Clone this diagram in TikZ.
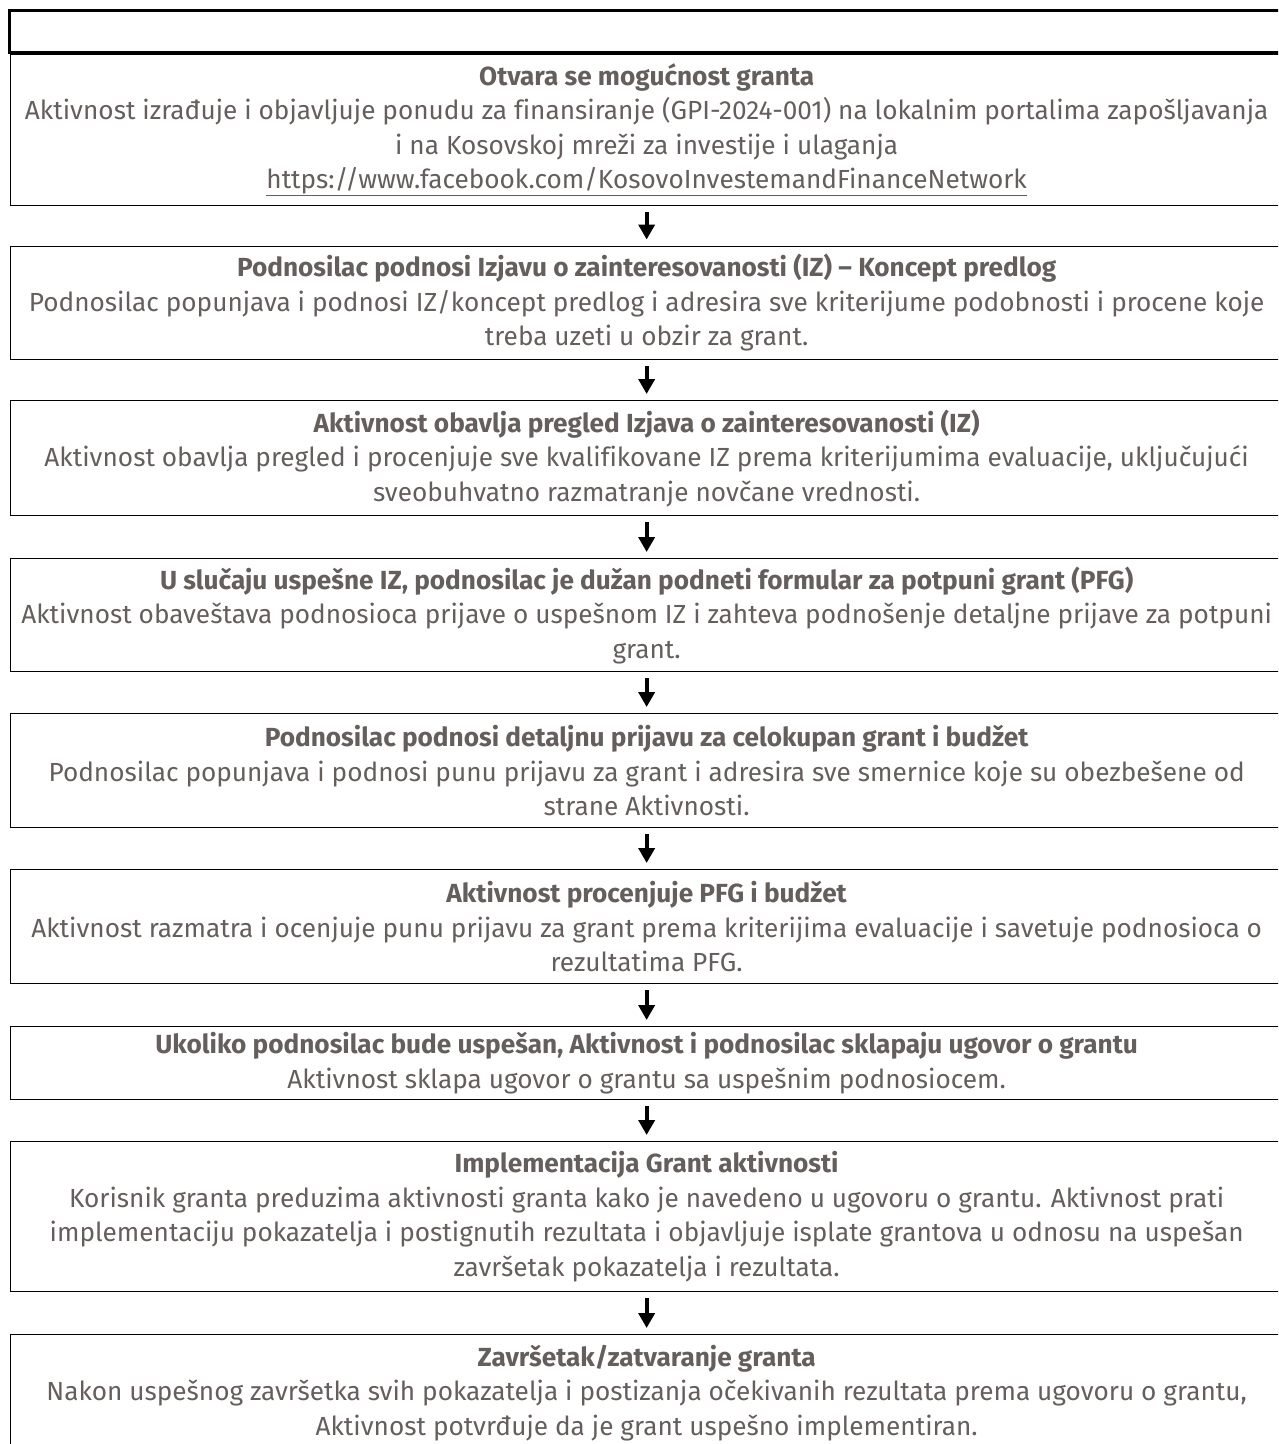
\documentclass[tikz,border=0pt]{standalone}
\usepackage{fontspec}
\setmainfont[Ligatures=NoCommon]{Fira Sans}
\usetikzlibrary{arrows.meta}
\definecolor{txtgrey}{RGB}{100,94,92}
\tikzset{
  stepbox/.style={draw=black, line width=1.3pt, minimum width=1272pt, inner sep=0pt,
    align=center, text=txtgrey, font=\fontsize{26.2}{34.5}\selectfont, anchor=north west},
  topbox/.style={draw=black, line width=2.6pt, minimum width=1276pt, minimum height=42pt, inner sep=0pt, anchor=north west},
  flowarrow/.style={line width=4.2pt, -{Triangle[width=16pt,length=15pt]}, shorten <=6pt, shorten >=6pt}
}
\begin{document}
\begin{tikzpicture}[x=1pt,y=-1pt]
\useasboundingbox (0,0) rectangle (1278,1444);
\clip (0,0) rectangle (1278,1444);
\node[topbox] (top) at (8,9) {};
\node[stepbox, minimum height=151pt] (b1) at (10,53.5) {{\bfseries Otvara se mogućnost granta}\\
Aktivnost izrađuje i objavljuje ponudu za finansiranje (GPI-2024-001) na lokalnim portalima zapošljavanja\\
i na Kosovskoj mreži za investije i ulaganja\\
\underline{https://www.facebook.com/KosovoInvestemandFinanceNetwork}};
\node[stepbox, minimum height=113pt] (b2) at (10,245.5) {{\bfseries Podnosilac podnosi Izjavu o zainteresovanosti (IZ) – Koncept predlog}\\
Podnosilac popunjava i podnosi IZ/koncept predlog i adresira sve kriterijume podobnosti i procene koje\\
treba uzeti u obzir za grant.};
\node[stepbox, minimum height=115pt] (b3) at (10,400) {{\bfseries Aktivnost obavlja pregled Izjava o zainteresovanosti (IZ)}\\
Aktivnost obavlja pregled i procenjuje sve kvalifikovane IZ prema kriterijumima evaluacije, uključujući\\
sveobuhvatno razmatranje novčane vrednosti.};
\node[stepbox, minimum height=113pt] (b4) at (10,558) {{\bfseries U slučaju uspešne IZ, podnosilac je dužan podneti formular za potpuni grant (PFG)}\\
Aktivnost obaveštava podnosioca prijave o uspešnom IZ i zahteva podnošenje detaljne prijave za potpuni\\
grant.};
\node[stepbox, minimum height=114pt] (b5) at (10,713) {{\bfseries Podnosilac podnosi detaljnu prijavu za celokupan grant i budžet}\\
Podnosilac popunjava i podnosi punu prijavu za grant i adresira sve smernice koje su obezbešene od\\
strane Aktivnosti.};
\node[stepbox, minimum height=114pt] (b6) at (10,869) {{\bfseries Aktivnost procenjuje PFG i budžet}\\
Aktivnost razmatra i ocenjuje punu prijavu za grant prema kriterijima evaluacije i savetuje podnosioca o\\
rezultatima PFG.};
\node[stepbox, minimum height=73pt] (b7) at (10,1026) {{\bfseries Ukoliko podnosilac bude uspešan, Aktivnost i podnosilac sklapaju ugovor o grantu}\\
Aktivnost sklapa ugovor o grantu sa uspešnim podnosiocem.};
\node[stepbox, minimum height=150pt] (b8) at (10,1141) {{\bfseries Implementacija Grant aktivnosti}\\
Korisnik granta preduzima aktivnosti granta kako je navedeno u ugovoru o grantu. Aktivnost prati\\
implementaciju pokazatelja i postignutih rezultata i objavljuje isplate grantova u odnosu na uspešan\\
završetak pokazatelja i rezultata.};
\node[stepbox, minimum height=116pt] (b9) at (10,1334) {{\bfseries Završetak/zatvaranje granta}\\
Nakon uspešnog završetka svih pokazatelja i postizanja očekivanih rezultata prema ugovoru o grantu,\\
Aktivnost potvrđuje da je grant uspešno implementiran.};
\foreach \a/\b in {b1/b2,b2/b3,b3/b4,b4/b5,b5/b6,b6/b7,b7/b8,b8/b9}
  \draw[flowarrow] (\a.south) -- (\b.north);
\end{tikzpicture}
\end{document}
